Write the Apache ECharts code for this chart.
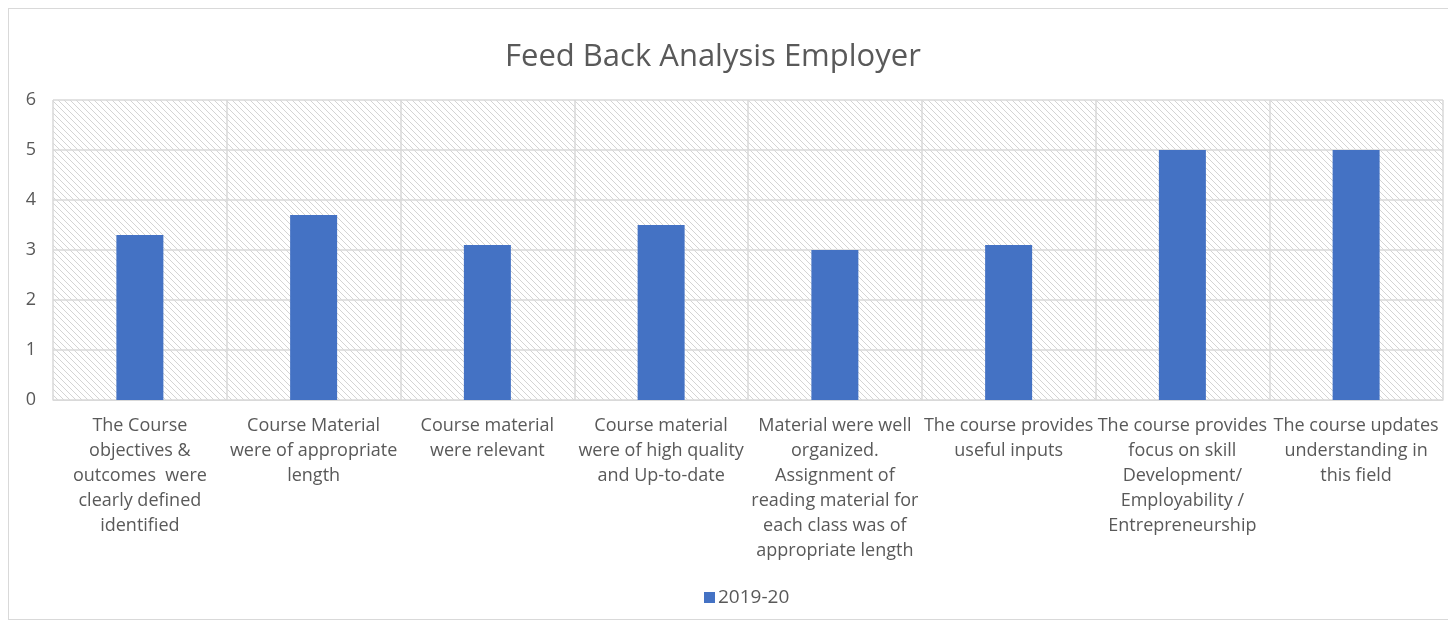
<!DOCTYPE html>
<html>
<head>
<meta charset="utf-8">
<script src="https://cdn.jsdelivr.net/npm/echarts@6/dist/echarts.min.js"></script>
<style>
  html, body { margin: 0; padding: 0; background: #fff; }
  #frame { position: absolute; left: 8px; top: 8px; width: 1446px; height: 612px; border: 1px solid #d9d9d9; box-sizing: border-box; }
  #chart { position: absolute; left: 0; top: 0; width: 1448px; height: 626px; }
</style>
</head>
<body>
<div id="frame"></div>
<div id="chart"></div>
<script>
const categories = [
  'The Course\nobjectives &\noutcomes  were\nclearly defined\nidentified',
  'Course Material\nwere of appropriate\nlength',
  'Course material\nwere relevant',
  'Course material\nwere of high quality\nand Up-to-date',
  'Material were well\norganized.\nAssignment of\nreading material for\neach class was of\nappropriate length',
  'The course provides\nuseful inputs',
  'The course provides\nfocus on skill\nDevelopment/\nEmployability /\nEntrepreneurship',
  'The course updates\nunderstanding in\nthis field',
];
const values2019 = [3.3, 3.7, 3.1, 3.5, 3.0, 3.1, 5, 5];
const seriesName = '2019-20';

// diagonal hatch for the plot area
function hatch() {
  const c = document.createElement('canvas');
  c.width = 6; c.height = 6;
  const ctx = c.getContext('2d');
  ctx.strokeStyle = '#d4d4d4';
  ctx.lineWidth = 1;
  ctx.beginPath();
  ctx.moveTo(-1, -1); ctx.lineTo(7, 7);
  ctx.moveTo(5, -1); ctx.lineTo(7, 1);
  ctx.moveTo(-1, 5); ctx.lineTo(1, 7);
  ctx.stroke();
  return c;
}

const textColor = '#595959';
const font = "'Open Sans', 'Noto Sans', sans-serif";

const chart = echarts.init(document.getElementById('chart'), null, { renderer: 'canvas' });
chart.setOption({
  animation: false,
  backgroundColor: 'transparent',
  textStyle: { fontFamily: font },
  title: {
    text: 'Feed Back Analysis Employer',
    left: 500,
    top: 37,
    textStyle: { color: textColor, fontSize: 31, fontWeight: 'normal', fontFamily: font },
  },
  legend: {
    bottom: 14,
    left: 699,
    itemWidth: 11,
    itemHeight: 11,
    itemGap: 6,
    icon: 'rect',
    textStyle: { color: textColor, fontSize: 19, fontFamily: font, padding: [0, 0, 0, -2] },
    data: [seriesName],
  },
  grid: {
    left: 53,
    right: 5,
    top: 100,
    bottom: 226,
    show: true,
    borderWidth: 0,
    backgroundColor: { image: hatch(), repeat: 'repeat' },
  },
  xAxis: {
    type: 'category',
    data: categories,
    axisLine: { show: true, lineStyle: { color: '#d9d9d9', width: 1 } },
    axisTick: { show: false },
    splitLine: { show: true, lineStyle: { color: '#d9d9d9', width: 1.5 } },
    axisLabel: {
      color: textColor,
      fontSize: 18,
      lineHeight: 25,
      margin: 13,
      interval: 0,
      align: 'center',
      verticalAlign: 'top',
    },
  },
  yAxis: {
    type: 'value',
    min: 0,
    max: 6,
    interval: 1,
    axisLine: { show: false },
    axisTick: { show: false },
    splitLine: { lineStyle: { color: '#d9d9d9', width: 1.5 } },
    axisLabel: { color: textColor, fontSize: 18, margin: 17 },
  },
  series: [{
    name: seriesName,
    type: 'bar',
    data: values2019,
    barWidth: 47,
    itemStyle: { color: '#4472C4' },
  }],
});
</script>
</body>
</html>
